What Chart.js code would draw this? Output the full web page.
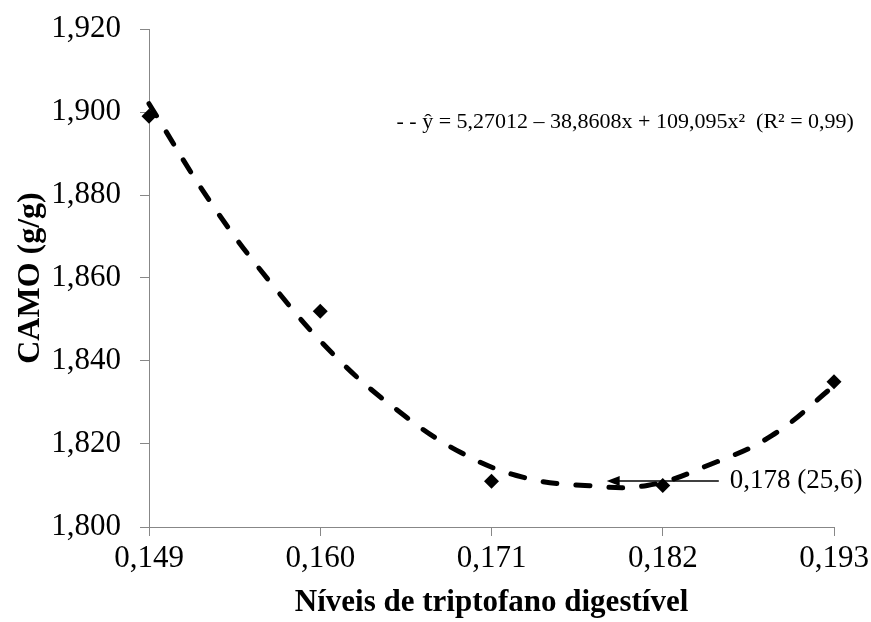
<!DOCTYPE html>
<html>
<head>
<meta charset="utf-8">
<title>CAMO x triptofano digestível</title>
<script src="https://cdn.jsdelivr.net/npm/chart.js@4.4.1/dist/chart.umd.min.js"></script>
<style>
  html, body { margin: 0; padding: 0; background: #fff; }
  #wrap { width: 871px; height: 622px; position: relative; }
</style>
</head>
<body>
<div id="wrap"><canvas id="chart"></canvas></div>
<script>
// ---------- data ----------
var xTicks = [0.149, 0.160, 0.171, 0.182, 0.193];
var yTicks = [1.800, 1.820, 1.840, 1.860, 1.880, 1.900, 1.920];

// observed CAMO per level
var levels = [0.149, 0.160, 0.171, 0.182, 0.193];
var camo   = [1.899, 1.852, 1.811, 1.810, 1.835];

// dashed fitted curve
var curveX = [0.149, 0.153, 0.157, 0.161, 0.165, 0.169, 0.173, 0.177, 0.181, 0.185, 0.189, 0.193];
var curveY = [1.902, 1.878, 1.858, 1.841, 1.828, 1.818, 1.812, 1.810, 1.810, 1.815, 1.822, 1.834];

var xTitle = "Níveis de triptofano digestível";
var yTitle = "CAMO (g/g)";
var equation = "- - ŷ = 5,27012 – 38,8608x + 109,095x²  (R² = 0,99)";
var eqAt = [0.1649, 1.8976];          // left end of the equation, data units
var optLabel = "0,178 (25,6)";
var arrowFrom = [0.1856, 1.8111];     // arrow tail (right)
var arrowTo = [0.1784, 1.8111];       // arrow head (left)
var optLabelX = 0.1863;

var SERIF = '"Liberation Serif", "Times New Roman", serif';
var AXIS = "#878787";

function comma(v) { return Number(v).toFixed(3).replace(".", ","); }

// ---------- annotation plugin: equation + arrow ----------
var notes = {
  id: "notes",
  afterDatasetsDraw: function (chart) {
    var ctx = chart.ctx, x = chart.scales.x, y = chart.scales.y;
    ctx.save();
    ctx.fillStyle = "#000";
    ctx.strokeStyle = "#000";
    ctx.textBaseline = "middle";
    ctx.textAlign = "left";

    ctx.font = "22px " + SERIF;
    ctx.fillText(equation, x.getPixelForValue(eqAt[0]), y.getPixelForValue(eqAt[1]));

    var x1 = x.getPixelForValue(arrowFrom[0]), y1 = y.getPixelForValue(arrowFrom[1]);
    var x2 = x.getPixelForValue(arrowTo[0]), y2 = y.getPixelForValue(arrowTo[1]);
    ctx.lineWidth = 1.5;
    ctx.beginPath();
    ctx.moveTo(x1, y1);
    ctx.lineTo(x2 + 8, y2);
    ctx.stroke();
    ctx.beginPath();
    ctx.moveTo(x2, y2);
    ctx.lineTo(x2 + 13, y2 - 5);
    ctx.lineTo(x2 + 13, y2 + 5);
    ctx.closePath();
    ctx.fill();

    ctx.font = "27px " + SERIF;
    ctx.fillText(optLabel, x.getPixelForValue(optLabelX), y1);
    ctx.restore();
  }
};

Chart.defaults.font.family = SERIF;
Chart.defaults.color = "#000";

new Chart(document.getElementById("chart"), {
  type: "scatter",
  data: {
    datasets: [
      {
        label: "CAMO",
        data: levels.map(function (v, i) { return { x: v, y: camo[i] }; }),
        pointStyle: "rectRot",
        pointRadius: 7.5,
        pointHoverRadius: 7.5,
        backgroundColor: "#000",
        borderWidth: 0,
        showLine: false,
        clip: false,
        order: 0
      },
      {
        label: "Ajuste",
        data: curveX.map(function (v, i) { return { x: v, y: curveY[i] }; }),
        showLine: true,
        borderColor: "#000",
        borderWidth: 5,
        borderDash: [14, 19],
        borderCapStyle: "round",
        tension: 0.4,
        pointRadius: 0,
        pointHoverRadius: 0,
        fill: false,
        clip: false,
        order: 1
      }
    ]
  },
  options: {
    responsive: true,
    maintainAspectRatio: false,
    animation: false,
    devicePixelRatio: 1,
    layout: { autoPadding: false, padding: { top: 29, right: 37, bottom: 0, left: 0 } },
    plugins: { legend: { display: false }, tooltip: { enabled: false } },
    scales: {
      x: {
        type: "linear",
        position: "bottom",
        min: xTicks[0],
        max: xTicks[xTicks.length - 1],
        afterBuildTicks: function (s) { s.ticks = xTicks.map(function (v) { return { value: v }; }); },
        afterFit: function (s) { s.height = 95; s.paddingLeft = 0; s.paddingRight = 0; },
        ticks: { callback: comma, font: { size: 31 }, color: "#000", padding: 4, maxRotation: 0, autoSkip: false },
        grid: { drawOnChartArea: false, drawTicks: true, tickLength: 9, color: AXIS },
        border: { color: AXIS, width: 1 },
        title: { display: true, text: xTitle, color: "#000", font: { size: 31, weight: "bold" }, padding: { top: 0, bottom: 0 } }
      },
      y: {
        type: "linear",
        min: yTicks[0],
        max: yTicks[yTicks.length - 1],
        afterBuildTicks: function (s) { s.ticks = yTicks.map(function (v) { return { value: v }; }); },
        afterFit: function (s) { s.width = 149; s.paddingTop = 0; s.paddingBottom = 0; },
        ticks: { callback: comma, font: { size: 31 }, color: "#000", padding: 19, autoSkip: false },
        grid: { drawOnChartArea: false, drawTicks: true, tickLength: 9, color: AXIS },
        border: { color: AXIS, width: 1 },
        title: { display: true, text: yTitle, color: "#000", font: { size: 32, weight: "bold" }, padding: { top: 12, bottom: 0 } }
      }
    }
  },
  plugins: [notes]
});
</script>
</body>
</html>
